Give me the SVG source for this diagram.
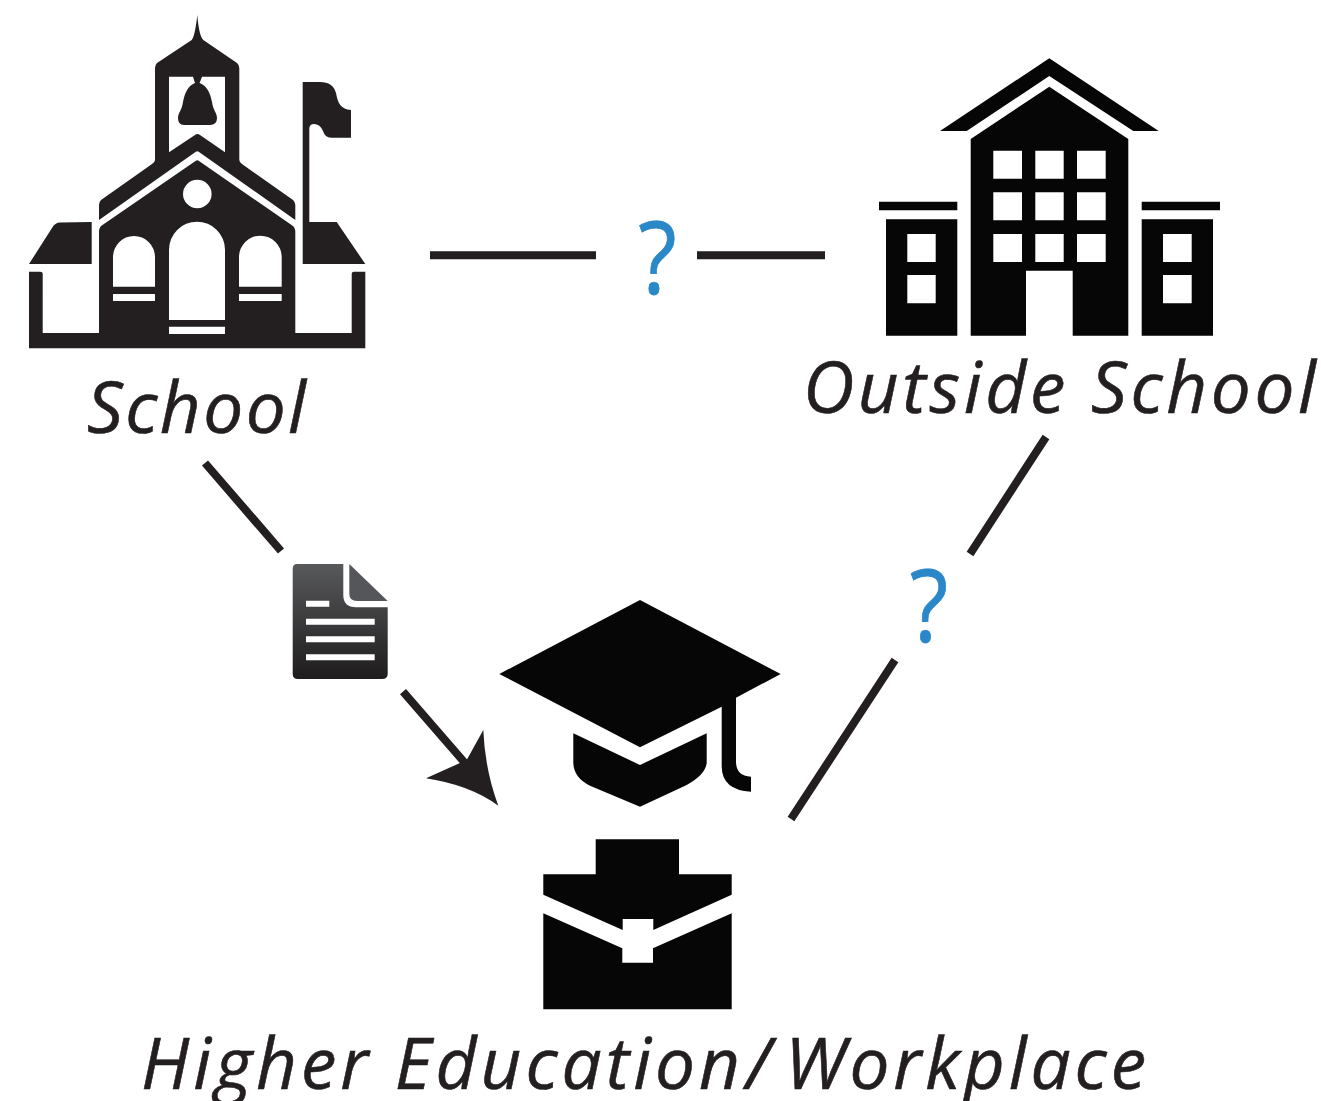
<svg xmlns="http://www.w3.org/2000/svg" width="1321" height="1101" viewBox="0 0 1321 1101">
<style>
.lbl{font-family:"Open Sans","Liberation Sans",sans-serif;font-style:italic;fill:#231f20;stroke:#231f20;stroke-width:.6;font-size:71px}
.q{font-family:"Open Sans","Liberation Sans",sans-serif;fill:#2a87c8;stroke:#2a87c8;stroke-width:.8;font-size:101px}
.ln{stroke:#231f20;stroke-width:8;fill:none}
.sch{fill:#231f20}.blk{fill:#060606}.w{fill:#fff}
</style>
<defs>
<linearGradient id="docg" x1="0" y1="0" x2="0" y2="1"><stop offset="0" stop-color="#58595b"/><stop offset="1" stop-color="#1e1c1d"/></linearGradient>
</defs>
<rect width="1321" height="1101" fill="#fff"/>
<g id="connectors">
<path class="ln" d="M430 255.300H596M697 255.300H825M205 463L281 551M1046 437L970 554M895 660L791 819M403 691.700L465 763"/>
<path class="sch" d="M483.300 730L466.700 760L426 778.300Q470 785 498.300 805.700Q485 770 483.300 730Z"/>
</g>
<g id="school">
<path class="sch" d="M197.300 15Q199 36 203.300 40L237 63Q239.300 65 239.300 68V160Q239.300 162 242 164L293 200Q295.300 202 295.300 205V220L199 152Q197.300 150.700 195.500 152L99 220V205Q99 202 101 200L152 164Q155 162 155 160V68Q155 65 157 63L191.700 40Q195 36 197.300 15ZM169 76.700V152.300L195 135Q197.300 133 200 135L225 152.300V76.700H202Q200 82 199.500 83C207 86 210 92 212 102C213 110 217 113 217 118Q217 125 210 125H184Q178 125 178 118C178 113 182 110 183 102C185 92 188 86 195 83Q194 80 193 76.700Z"/>
<path class="sch" fill-rule="evenodd" d="M195.500 161Q197.300 159.500 199 161L293 226Q295.300 228 295.300 231V333H351.700V274Q351.700 271.700 354 271.700H365.300V348.300H29V271.700H40Q42.700 271.700 42.700 274V333H99V231Q99 228 101 226ZM183 194a14.300 14.300 0 1 0 28.600 0a14.300 14.300 0 1 0 -28.600 0ZM169 320H225V249.700A28 28 0 0 0 169 249.700ZM169 326.700V334H225V326.700ZM113 286.700H155V257A21 21 0 0 0 113 257ZM113 294V301H155V294ZM239 286.700H281.700V257A21.300 21.300 0 0 0 239 257ZM239 294V301H281.700V294Z"/>
<path class="sch" d="M29 264L52 228Q55 222.500 60 222.500L91.700 222V264Z"/>
<path class="sch" d="M302.700 82H320Q333 82 336 93C338 104 341 109 351 110V137.700H331Q325 137.700 323 131Q320 124 314 124Q309.300 124 309.300 129V222H336.700L365.300 264H302.700Z"/>
</g>
<g id="outside-school">
<path class="blk" d="M1049.300 58.300L1158.700 131H1133.300L1049.300 76L966.700 131H940Z"/>
<path class="blk" fill-rule="evenodd" d="M1049.300 86.700L1128.300 139V335.700H1072.700V270.700H1026V335.700H970.700V139ZM993.300 150.700V178.700H1022V150.700ZM1035.300 150.700V178.700H1063.700V150.700ZM1077 150.700V178.700H1105.700V150.700ZM993.300 192.300V220.300H1022V192.300ZM1035.300 192.300V220.300H1063.700V192.300ZM1077 192.300V220.300H1105.700V192.300ZM993.300 234V262H1022V234ZM1035.300 234V262H1063.700V234ZM1077 234V262H1105.700V234Z"/>
<path class="blk" fill-rule="evenodd" d="M879 201.700H957.300V210.300H879ZM886 219.300H957.300V335.700H886ZM907.300 234V262H935.700V234ZM907.300 275V303.300H935.700V275ZM1141.700 201.700H1220V210.300H1141.700ZM1141.700 219.300H1213V335.700H1141.700ZM1163 234V262H1191.700V234ZM1163 275V303.300H1191.700V275Z"/>
</g>
<g id="document">
<path fill="url(#docg)" d="M297 564H343.300V595Q343.300 607.300 356 607.300H387.700V674Q387.700 679 382 679H298Q292.700 679 292.700 674V569Q292.700 564 297 564Z"/>
<path fill="#55565a" d="M349.300 564L387.700 601H357Q349.300 601 349.300 594Z"/>
<path class="w" d="M306 600.700H329.300V606.700H306ZM306 618.700H374.700V624.700H306ZM306 636.300H374.700V642.300H306ZM306 654.300H374.700V660.300H306Z"/>
</g>
<g id="higher-education-workplace">
<path class="blk" d="M640 600L780.700 674L736 697.700V761.700Q736 776 751 776.700V791.700Q722 790 721.700 766.700V706.700L640 747.300L499.300 674Z"/>
<path class="blk" d="M573.300 733.300L640 765L706.700 733.300V763.300Q705 775 686.700 785L640 806.700L590 785.700Q574 778 573.300 763.300Z"/>
<path class="blk" d="M595.700 839.300H679V874.300H731.700V894.700L653.300 930V919H622.700V930L543.300 894.700V874.300H595.700Z"/>
<path class="blk" d="M543.300 913.300L622.300 948.300V962.700H653V948.300L731.700 913.300V1009.300H543.300Z"/>
</g>
<g id="labels">
<text class="lbl" x="87" y="433" textLength="219" lengthAdjust="spacing">School</text>
<text class="lbl" x="803" y="413" textLength="513" lengthAdjust="spacing">Outside School</text>
<text class="lbl" y="1089"><tspan x="141" textLength="599" lengthAdjust="spacing">Higher Education</tspan><tspan x="746">/</tspan><tspan x="785" textLength="361" lengthAdjust="spacing">Workplace</tspan></text>
<text class="q" transform="translate(657.500 294) scale(.88 1)" text-anchor="middle">?</text>
<text class="q" transform="translate(929 642) scale(.88 1)" text-anchor="middle">?</text>
</g>
</svg>
